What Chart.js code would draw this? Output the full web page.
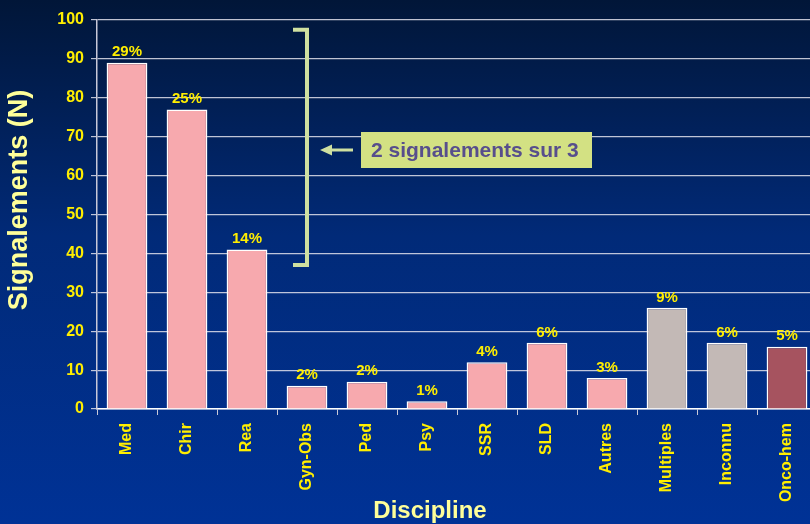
<!DOCTYPE html>
<html>
<head>
<meta charset="utf-8">
<script src="https://cdn.jsdelivr.net/npm/chart.js@4"></script>
<style>
  html, body { margin: 0; padding: 0; overflow: hidden; }
  body { width: 810px; height: 524px; background: linear-gradient(to bottom, #011638 0%, #012a78 45%, #003296 100%); }
  #wrap { width: 810px; height: 524px; position: relative; overflow: hidden; }
</style>
</head>
<body>
<div id="wrap"><canvas id="barChart" width="817" height="524"></canvas></div>
<script>
// disciplines and counts
const disciplines = ["Med", "Chir", "Rea", "Gyn-Obs", "Ped", "Psy", "SSR", "SLD", "Autres", "Multiples", "Inconnu", "Onco-hem"];
const counts = [89, 77, 41, 6, 7, 2, 12, 17, 8, 26, 17, 16];
const percents = ["29%", "25%", "14%", "2%", "2%", "1%", "4%", "6%", "3%", "9%", "6%", "5%"];
const barColors = ["#f7a9ae", "#f7a9ae", "#f7a9ae", "#f7a9ae", "#f7a9ae", "#f7a9ae", "#f7a9ae", "#f7a9ae", "#f7a9ae", "#c3b9b6", "#c3b9b6", "#a6535f"];
// bracket spans the first three bars
const bracketRange = [37, 97.5];
const bracketText = "2 signalements sur 3";
const xTitle = "Discipline";
const yTitle = "Signalements (N)";

const FONT = "'Liberation Sans', Arial, sans-serif";

// percentage labels above bars
const percentLabels = {
  id: "percentLabels",
  afterDatasetsDraw(chart) {
    const ctx = chart.ctx;
    const meta = chart.getDatasetMeta(0);
    ctx.save();
    ctx.font = "bold 15px " + FONT;
    ctx.fillStyle = "#ffee00";
    ctx.textAlign = "center";
    ctx.textBaseline = "bottom";
    meta.data.forEach((bar, i) => {
      ctx.fillText(percents[i], bar.x, bar.y - 3);
    });
    ctx.restore();
  },
};

// axis titles, drawn by hand so they can sit off-centre
const axisTitles = {
  id: "axisTitles",
  afterDraw(chart) {
    const ctx = chart.ctx;
    ctx.save();
    ctx.fillStyle = "#ffff99";
    ctx.textAlign = "center";
    ctx.textBaseline = "middle";
    ctx.font = "bold 24px " + FONT;
    ctx.fillText(xTitle, 430, 511);
    ctx.translate(20, 200);
    ctx.rotate(-Math.PI / 2);
    ctx.font = "bold 27px " + FONT;
    ctx.fillText(yTitle, 0, 0);
    ctx.restore();
  },
};

// bracket, arrow and callout box
const bracket = {
  id: "bracket",
  afterDraw(chart) {
    const ctx = chart.ctx;
    const y = chart.scales.y;
    const top = y.getPixelForValue(bracketRange[1]);
    const bottom = y.getPixelForValue(bracketRange[0]);
    const bx = 307;
    ctx.save();
    ctx.strokeStyle = "#cfe0a0";
    ctx.lineWidth = 4;
    ctx.beginPath();
    ctx.moveTo(293, top);
    ctx.lineTo(bx, top);
    ctx.lineTo(bx, bottom);
    ctx.lineTo(293, bottom);
    ctx.stroke();

    const ay = 150;
    ctx.lineWidth = 3;
    ctx.beginPath();
    ctx.moveTo(353, ay);
    ctx.lineTo(328, ay);
    ctx.stroke();
    ctx.fillStyle = "#cfe0a0";
    ctx.beginPath();
    ctx.moveTo(320, ay);
    ctx.lineTo(332, ay - 5.5);
    ctx.lineTo(332, ay + 5.5);
    ctx.closePath();
    ctx.fill();

    ctx.fillStyle = "#d3e183";
    ctx.fillRect(361, 132, 231, 36);
    ctx.fillStyle = "#574e8c";
    ctx.font = "bold 21px " + FONT;
    ctx.textAlign = "left";
    ctx.textBaseline = "middle";
    ctx.fillText(bracketText, 371, 151);
    ctx.restore();
  },
};

const barChart = document.getElementById("barChart");
new Chart(barChart, {
  type: "bar",
  data: {
    labels: disciplines,
    datasets: [
      {
        data: counts,
        backgroundColor: barColors,
        borderColor: "#ffffff",
        borderWidth: 1.5,
        barPercentage: 0.68,
        categoryPercentage: 1.0,
      },
    ],
  },
  options: {
    responsive: false,
    animation: false,
    layout: { padding: { top: 20, right: 0, left: 0, bottom: 0 } },
    plugins: {
      legend: { display: false },
      tooltip: { enabled: false },
    },
    scales: {
      x: {
        border: { color: "#ffffff", width: 1.5 },
        grid: { drawOnChartArea: false, color: "#c8c8d8", tickLength: 6, offset: true },
        ticks: {
          color: "#ffee00",
          font: { family: FONT, weight: "bold", size: 16 },
          minRotation: 90,
          maxRotation: 90,
          padding: 8,
        },
        afterFit(scale) { scale.height = 115; },
      },
      y: {
        min: 0,
        max: 100,
        border: { color: "#c8c8d8", width: 1.5 },
        grid: { color: "rgba(225,225,235,0.85)", lineWidth: 1.2, tickLength: 6 },
        ticks: {
          stepSize: 10,
          color: "#ffee00",
          font: { family: FONT, weight: "bold", size: 16 },
          padding: 7,
        },
        afterFit(scale) { scale.width = 97; },
      },
    },
  },
  plugins: [percentLabels, axisTitles, bracket],
});
</script>
</body>
</html>
